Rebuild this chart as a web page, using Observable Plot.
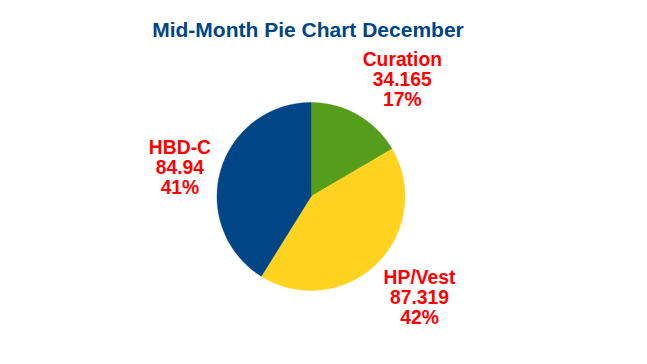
<!DOCTYPE html>
<html>
<head>
<meta charset="utf-8">
<script src="https://cdn.jsdelivr.net/npm/d3@7"></script>
<script src="https://cdn.jsdelivr.net/npm/@observablehq/plot@0.6"></script>
<style>
  html, body { margin: 0; padding: 0; background: #fff; }
  #title {
    width: 616px; height: 25px; padding-top: 17px;
    font: bold 21px "Liberation Sans", Arial, sans-serif; line-height: 25px;
    color: #004586; text-align: center; white-space: nowrap;
  }
</style>
</head>
<body>
<div id="title">Mid-Month Pie Chart December</div>
<div id="chart"></div>
<script>
const categories = ["Curation", "HP/Vest", "HBD-C"];
const values = [34.165, 87.319, 84.94];
const colors = ["#579d1c", "#ffd320", "#004586"];

const R = 94;            // pie radius in px
const labelFont = 19.3;  // px
const lineGap = 20;      // px between label baselines

const total = d3.sum(values);
const arcs = d3.pie().sort(null).value(d => d)(values);

// slice outlines in unit coordinates (x = sin, y = cos, angles clockwise from top)
const slicePts = [];
arcs.forEach((a, i) => {
  const n = Math.max(2, Math.ceil((a.endAngle - a.startAngle) / (Math.PI / 360)));
  slicePts.push({label: categories[i], x: 0, y: 0});
  for (let k = 0; k <= n; k++) {
    const t = a.startAngle + (a.endAngle - a.startAngle) * k / n;
    slicePts.push({label: categories[i], x: Math.sin(t), y: Math.cos(t)});
  }
  slicePts.push({label: categories[i], x: 0, y: 0});
});

// label placement
const ctx = document.createElement("canvas").getContext("2d");
ctx.font = `bold ${labelFont}px "Liberation Sans", Arial, sans-serif`;
const labels = arcs.map((a, i) => {
  const lines = [categories[i], String(values[i]), Math.round(values[i] / total * 100) + "%"];
  const w = d3.max(lines, s => ctx.measureText(s).width);
  const h = 2 * lineGap + 0.716 * labelFont;
  const mid = (a.startAngle + a.endAngle) / 2;
  const rho = 104;
  const ax = rho * Math.sin(mid), ay = -rho * Math.cos(mid); // screen coords (y down)
  const s = Math.sin(mid), c = Math.cos(mid);
  let cx = ax, cy = ay;
  if (s > 0.3) cx = ax + w / 2; else if (s < -0.3) cx = ax - w / 2;
  if (c > 0.5) cy = ay - h / 2; else if (c < -0.5) cy = ay + h / 2;
  return {text: lines.join("\n"), x: cx / R, y: -cy / R};
});

const cx0 = 310.5, cy0 = 154;
const chart = Plot.plot({
  width: 647,
  height: 322,
  margin: 0,
  x: {domain: [-1, 1], range: [cx0 - R, cx0 + R], axis: null},
  y: {domain: [-1, 1], range: [cy0 + R, cy0 - R], axis: null},
  color: {domain: categories, range: colors},
  style: {background: "#fff", overflow: "visible"},
  marks: [
    Plot.line(slicePts, {x: "x", y: "y", z: "label", fill: "label", stroke: "label", strokeWidth: 0.4}),
    Plot.text(labels, {
      x: "x", y: "y", text: "text",
      fill: "#ff0000", fontWeight: "bold", fontSize: labelFont,
      fontFamily: "'Liberation Sans', Arial, sans-serif",
      lineHeight: lineGap / labelFont, textAnchor: "middle", lineAnchor: "middle"
    })
  ]
});
document.getElementById("chart").appendChild(chart);
</script>
</body>
</html>
